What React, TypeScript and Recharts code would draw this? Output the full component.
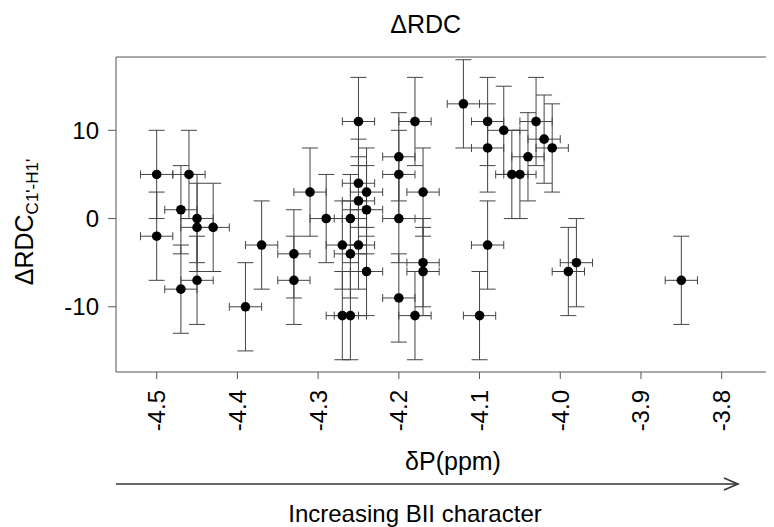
import React from "react";
import {
  ScatterChart,
  Scatter,
  XAxis,
  YAxis,
  ErrorBar,
  ReferenceLine,
} from "recharts";

// chemical shift dP (ppm)
const shiftPpm = [
  -4.5, -4.5, -4.46, -4.47, -4.45, -4.45, -4.43, -4.47, -4.45, -4.39, -4.37,
  -4.33, -4.33, -4.31, -4.29,
  -4.25, -4.25, -4.24, -4.25, -4.24, -4.26, -4.27, -4.25, -4.26, -4.24, -4.27,
  -4.26,
  -4.2, -4.2, -4.2, -4.2, -4.18, -4.17, -4.17, -4.17, -4.18,
  -4.12, -4.09, -4.09, -4.07, -4.06, -4.05, -4.04, -4.03, -4.02, -4.01, -4.09,
  -4.1, -3.99, -3.98, -3.85,
];

// delta RDC C1'-H1'
const deltaRdc = [
  5, -2, 5, 1, 0, -1, -1, -8, -7, -10, -3,
  -4, -7, 3, 0,
  11, 4, 3, 2, 1, 0, -3, -3, -4, -6, -11,
  -11,
  7, 5, 0, -9, 11, 3, -5, -6, -11,
  13, 11, 8, 10, 5, 5, 7, 11, 9, 8, -3,
  -11, -6, -5, -7,
];

const shiftErr = [
  0.02, 0.02, 0.02, 0.02, 0.02, 0.02, 0.02, 0.02, 0.02, 0.02, 0.02,
  0.02, 0.02, 0.02, 0.02,
  0.02, 0.02, 0.02, 0.02, 0.02, 0.02, 0.02, 0.02, 0.02, 0.02, 0.02,
  0.02,
  0.02, 0.02, 0.02, 0.02, 0.02, 0.02, 0.02, 0.02, 0.02,
  0.02, 0.02, 0.02, 0.02, 0.02, 0.02, 0.02, 0.02, 0.02, 0.02, 0.02,
  0.02, 0.02, 0.02, 0.02,
];

const rdcErr = [
  5, 5, 5, 5, 5, 5, 5, 5, 5, 5, 5,
  5, 5, 5, 5,
  5, 5, 5, 5, 5, 5, 5, 5, 5, 5, 5,
  5,
  5, 5, 5, 5, 5, 5, 5, 5, 5,
  5, 5, 5, 5, 5, 5, 5, 5, 5, 5, 5,
  5, 5, 5, 5,
];

const xTicks = [-4.5, -4.4, -4.3, -4.2, -4.1, -4.0, -3.9, -3.8];
const yTicks = [-10, 0, 10];

const X_DOMAIN: [number, number] = [-4.5504, -3.7352];
const Y_DOMAIN: [number, number] = [-17.39, 18.31];

const points = shiftPpm.map((x, i) => ({
  x,
  y: deltaRdc[i],
  ex: shiftErr[i],
  ey: rdcErr[i],
}));

const FONT = "'Liberation Sans', Arial, Helvetica, sans-serif";
const AXIS_COLOR = "#555";

function XTick(props: any) {
  const { x, y, payload } = props;
  return (
    <text
      x={x}
      y={y}
      transform={`rotate(-90 ${x} ${y})`}
      textAnchor="end"
      dy="0.35em"
      fontSize={24}
      fill="#000"
    >
      {Number(payload.value).toFixed(1)}
    </text>
  );
}

function Dot(props: any) {
  const { cx, cy } = props;
  return <circle cx={cx} cy={cy} r={4.8} fill="#000" />;
}

export default function App() {
  return (
    <div style={{ position: "relative", width: 766, height: 519, fontFamily: FONT }}>
      <ScatterChart
        width={766}
        height={519}
        margin={{ top: 49, right: 0, bottom: 95, left: 0 }}
      >
        <XAxis
          type="number"
          dataKey="x"
          domain={X_DOMAIN}
          ticks={xTicks}
          allowDataOverflow
          height={60}
          tickSize={7}
          tickMargin={11}
          tick={<XTick />}
          axisLine={{ stroke: AXIS_COLOR }}
          tickLine={{ stroke: AXIS_COLOR }}
        />
        <YAxis
          type="number"
          dataKey="y"
          domain={Y_DOMAIN}
          ticks={yTicks}
          allowDataOverflow
          width={108}
          tickSize={8}
          tickMargin={9}
          tick={{ fontSize: 24, fill: "#000" }}
          axisLine={{ stroke: AXIS_COLOR }}
          tickLine={{ stroke: AXIS_COLOR }}
        />
        <ReferenceLine y={Y_DOMAIN[1]} stroke={AXIS_COLOR} ifOverflow="visible" />
        <Scatter data={points} shape={<Dot />} isAnimationActive={false}>
          <ErrorBar dataKey="ey" direction="y" width={8} stroke="#444" strokeWidth={1} />
          <ErrorBar dataKey="ex" direction="x" width={4} stroke="#444" strokeWidth={1} />
        </Scatter>
      </ScatterChart>
      <svg
        width={766}
        height={519}
        style={{ position: "absolute", left: 0, top: 0, pointerEvents: "none" }}
      >
        <text x={417.7} y={25.3} textAnchor="middle" fontSize={25} fill="#000">
          ΔRDC
        </text>
        <text
          transform="translate(25, 214) rotate(-90)"
          textAnchor="middle"
          fontSize={25}
          fill="#000"
        >
          <tspan>ΔRDC</tspan>
          <tspan fontSize={17} dy={5}>
            C1'-H1'
          </tspan>
        </text>
        <text x={445} y={462} textAnchor="middle" fontSize={25} fill="#000">
          δP(ppm)
        </text>
        <line x1={108} y1={476} x2={730} y2={476} stroke="#333" strokeWidth={1.5} />
        <polyline
          points="716,470 730,476 716,482"
          fill="none"
          stroke="#333"
          strokeWidth={1.5}
        />
        <text x={407} y={514} textAnchor="middle" fontSize={24} fill="#000">
          Increasing BII character
        </text>
      </svg>
    </div>
  );
}
